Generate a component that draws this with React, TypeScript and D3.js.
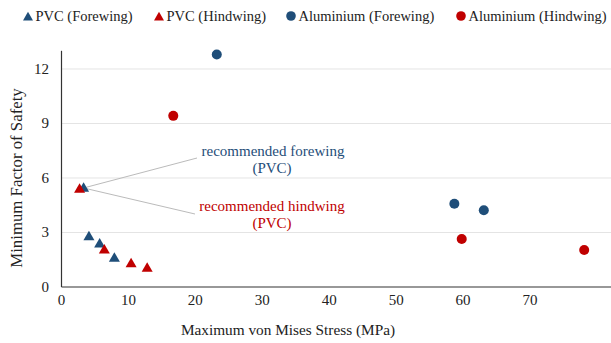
import React from "react";
import * as d3 from "d3";

const W = 611, H = 343;
const BLUE = "#1F4E79", RED = "#C00000";

const pvcForeX = [3.3, 4.1, 5.7, 7.9];
const pvcForeY = [5.45, 2.78, 2.38, 1.6];
const pvcHindX = [2.7, 6.4, 10.4, 12.8];
const pvcHindY = [5.4, 2.05, 1.3, 1.05];
const aluForeX = [23.2, 58.7, 63.1];
const aluForeY = [12.8, 4.58, 4.22];
const aluHindX = [16.7, 59.8, 78.1];
const aluHindY = [9.42, 2.64, 2.04];

const xTicks = [0, 10, 20, 30, 40, 50, 60, 70];
const yTicks = [0, 3, 6, 9, 12];

const legendItems = [
  { label: "PVC (Forewing)", color: BLUE, shape: "tri", x: 28 },
  { label: "PVC (Hindwing)", color: RED, shape: "tri", x: 159 },
  { label: "Aluminium (Forewing)", color: BLUE, shape: "circ", x: 291 },
  { label: "Aluminium (Hindwing)", color: RED, shape: "circ", x: 461 },
];

const FONT = "Liberation Serif";

function tri(cx: number, cy: number, s = 11) {
  const h = s * 0.87;
  return `M${cx},${cy - h * 0.6}L${cx + s / 2},${cy + h * 0.4}L${cx - s / 2},${cy + h * 0.4}Z`;
}

export default function App() {
  const x = d3.scaleLinear().domain([0, 82]).range([61.5, 610.3]);
  const y = d3.scaleLinear().domain([0, 13]).range([287, 50.8]);
  const x0 = x(0), y0 = y(0);

  const triSeries = [
    { xs: pvcForeX, ys: pvcForeY, color: BLUE },
    { xs: pvcHindX, ys: pvcHindY, color: RED },
  ];
  const circSeries = [
    { xs: aluForeX, ys: aluForeY, color: BLUE },
    { xs: aluHindX, ys: aluHindY, color: RED },
  ];

  const recX = x(pvcForeX[0]);
  const recY = y(pvcForeY[0]);
  const ts = { fontFamily: FONT };

  return (
    <svg width={W} height={H} style={{ position: "absolute", left: 0, top: 0, background: "#fff", fontFamily: FONT }}>
      {/* legend */}
      {legendItems.map((d, i) => (
        <g key={i}>
          {d.shape === "tri" ? (
            <path d={tri(d.x, 17, 10)} fill={d.color} />
          ) : (
            <circle cx={d.x} cy={16} r={4.8} fill={d.color} />
          )}
          <text x={d.x + 7.5} y={21} fontSize={14.5} fill="#222" style={ts}>{d.label}</text>
        </g>
      ))}

      {/* gridlines */}
      {yTicks.filter((t) => t > 0).map((t) => (
        <line key={t} x1={x0} x2={W} y1={y(t)} y2={y(t)} stroke="#e4e4e4" strokeWidth={1} />
      ))}

      {/* axes */}
      <line x1={x0} x2={x0} y1={y(13)} y2={y0} stroke="#333" strokeWidth={1.2} />
      <line x1={x0} x2={W} y1={y0} y2={y0} stroke="#333" strokeWidth={1.2} />

      {yTicks.map((t) => (
        <text key={t} x={49} y={y(t) + 5} fontSize={15} textAnchor="end" fill="#222" style={ts}>{t}</text>
      ))}
      {xTicks.map((t) => (
        <text key={t} x={x(t)} y={305} fontSize={15} textAnchor="middle" fill="#222" style={ts}>{t}</text>
      ))}

      <text x={288} y={335} fontSize={15.3} textAnchor="middle" fill="#222" style={ts}>Maximum von Mises Stress (MPa)</text>
      <text transform={`translate(22,178) rotate(-90)`} fontSize={16.8} textAnchor="middle" fill="#222" style={ts}>Minimum Factor of Safety</text>

      {/* annotations */}
      <line x1={recX} y1={recY} x2={197} y2={158} stroke="#bbb" strokeWidth={1} />
      <line x1={recX} y1={recY} x2={195} y2={214} stroke="#bbb" strokeWidth={1} />
      <text x={273} y={156} fontSize={15} textAnchor="middle" fill={BLUE} style={ts}>recommended forewing</text>
      <text x={272} y={172.5} fontSize={15} textAnchor="middle" fill={BLUE} style={ts}>(PVC)</text>
      <text x={272} y={211} fontSize={15} textAnchor="middle" fill={RED} style={ts}>recommended hindwing</text>
      <text x={272} y={228} fontSize={15} textAnchor="middle" fill={RED} style={ts}>(PVC)</text>

      {/* points */}
      {circSeries.map((s, si) =>
        s.xs.map((v, i) => <circle key={`c${si}-${i}`} cx={x(v)} cy={y(s.ys[i])} r={5} fill={s.color} />)
      )}
      {triSeries.map((s, si) =>
        s.xs.map((v, i) => <path key={`t${si}-${i}`} d={tri(x(v), y(s.ys[i]), 11)} fill={s.color} />)
      )}
    </svg>
  );
}
